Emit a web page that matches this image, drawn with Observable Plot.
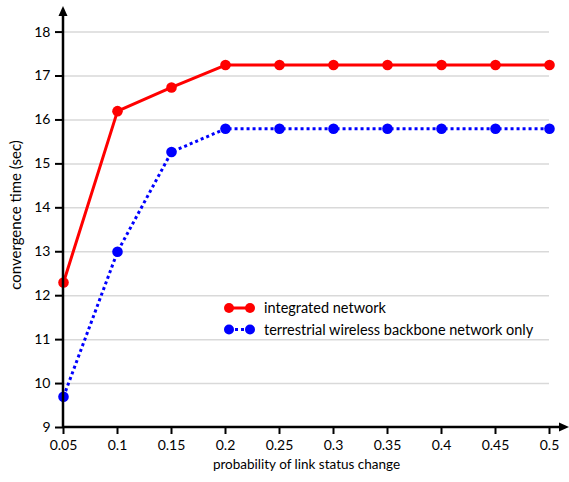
<!DOCTYPE html>
<html><head><meta charset="utf-8">
<script src="https://cdn.jsdelivr.net/npm/d3@7"></script>
<script src="https://cdn.jsdelivr.net/npm/@observablehq/plot@0.6"></script>
<style>body{margin:0;background:#fff} svg{font-family:Lato, sans-serif}</style>
</head><body><div id="chart"></div>
<script>
const probabilities = [0.05, 0.1, 0.15, 0.2, 0.25, 0.3, 0.35, 0.4, 0.45, 0.5];
const integrated = [12.3, 16.2, 16.74, 17.25, 17.25, 17.25, 17.25, 17.25, 17.25, 17.25];
const terrestrial = [9.7, 13.0, 15.27, 15.8, 15.8, 15.8, 15.8, 15.8, 15.8, 15.8];
const xTicks = [0.05, 0.1, 0.15, 0.2, 0.25, 0.3, 0.35, 0.4, 0.45, 0.5];
const yTicks = [9, 10, 11, 12, 13, 14, 15, 16, 17, 18];
const gridValues = [10, 11, 12, 13, 14, 15, 16, 17, 18];
const seriesNames = ["integrated network", "terrestrial wireless backbone network only"];
const seriesColors = ["#ff0000", "#0000ff"];

const redData = probabilities.map((p, i) => ({p, v: integrated[i]}));
const blueData = probabilities.map((p, i) => ({p, v: terrestrial[i]}));

const plot = Plot.plot({
  width: 569, height: 482,
  marginLeft: 63, marginRight: 20, marginTop: 14, marginBottom: 55,
  style: {fontFamily: "Lato, sans-serif", fontSize: "14px", color: "#000", background: "#fff", overflow: "visible"},
  x: {domain: [0.05, 0.5]},
  y: {domain: [9, 18.4]},
  marks: [
    Plot.gridY(gridValues, {stroke: "#d9d9d9", strokeOpacity: 1, strokeWidth: 1.5}),
    Plot.axisX(xTicks, {tickSize: 7, tickPadding: 6, tickFormat: d => String(d), label: null, strokeWidth: 2, fontSize: 14}),
    Plot.axisY(yTicks, {tickSize: 8, tickPadding: 5, label: null, strokeWidth: 2, fontSize: 14}),
    Plot.line(redData, {x: "p", y: "v", stroke: seriesColors[0], strokeWidth: 3}),
    Plot.line(blueData, {x: "p", y: "v", stroke: seriesColors[1], strokeWidth: 3, strokeDasharray: "3,3", strokeLinecap: "butt"}),
    Plot.dot(redData, {x: "p", y: "v", r: 5.3, fill: seriesColors[0]}),
    Plot.dot(blueData, {x: "p", y: "v", r: 5.3, fill: seriesColors[1]}),
    Plot.text(["probability of link status change"], {frameAnchor: "bottom", dy: 41, fontSize: 13.5}),
    Plot.text(["convergence time (sec)"], {frameAnchor: "left", dx: -47, dy: -6, rotate: -90, textAnchor: "middle", fontSize: 15})
  ]
});
document.getElementById("chart").appendChild(plot);

// axis lines with arrowheads and legend
const svg = d3.select(plot);
const xs = plot.scale("x"), ys = plot.scale("y");
const x0 = xs.range[0], y0 = ys.range[0];
const g = svg.append("g");
g.append("line").attr("x1", x0).attr("x2", 562).attr("y1", y0).attr("y2", y0).attr("stroke", "#000").attr("stroke-width", 2.5);
g.append("line").attr("x1", x0).attr("x2", x0).attr("y1", y0 + 1).attr("y2", 12).attr("stroke", "#000").attr("stroke-width", 2.5);
g.append("path").attr("d", `M${x0},6 L${x0 - 4.5},16 L${x0 + 4.5},16 Z`).attr("fill", "#000");
g.append("path").attr("d", `M569,${y0} L559,${y0 - 4.5} L559,${y0 + 4.5} Z`).attr("fill", "#000");

const lg = svg.append("g").attr("text-anchor", "start");
seriesNames.forEach((name, i) => {
  const yy = 308 + i * 21.5;
  lg.append("line").attr("x1", 229).attr("x2", 250).attr("y1", yy).attr("y2", yy)
    .attr("stroke", seriesColors[i]).attr("stroke-width", 3)
    .attr("stroke-dasharray", i === 1 ? "3,3" : null);
  [229, 250].forEach(cx => lg.append("circle").attr("cx", cx).attr("cy", yy).attr("r", 5).attr("fill", seriesColors[i]));
  lg.append("text").attr("x", 264).attr("y", yy).attr("dy", "0.35em").attr("font-size", 14.5).attr("fill", "#000").text(name);
});
</script>
</body></html>
